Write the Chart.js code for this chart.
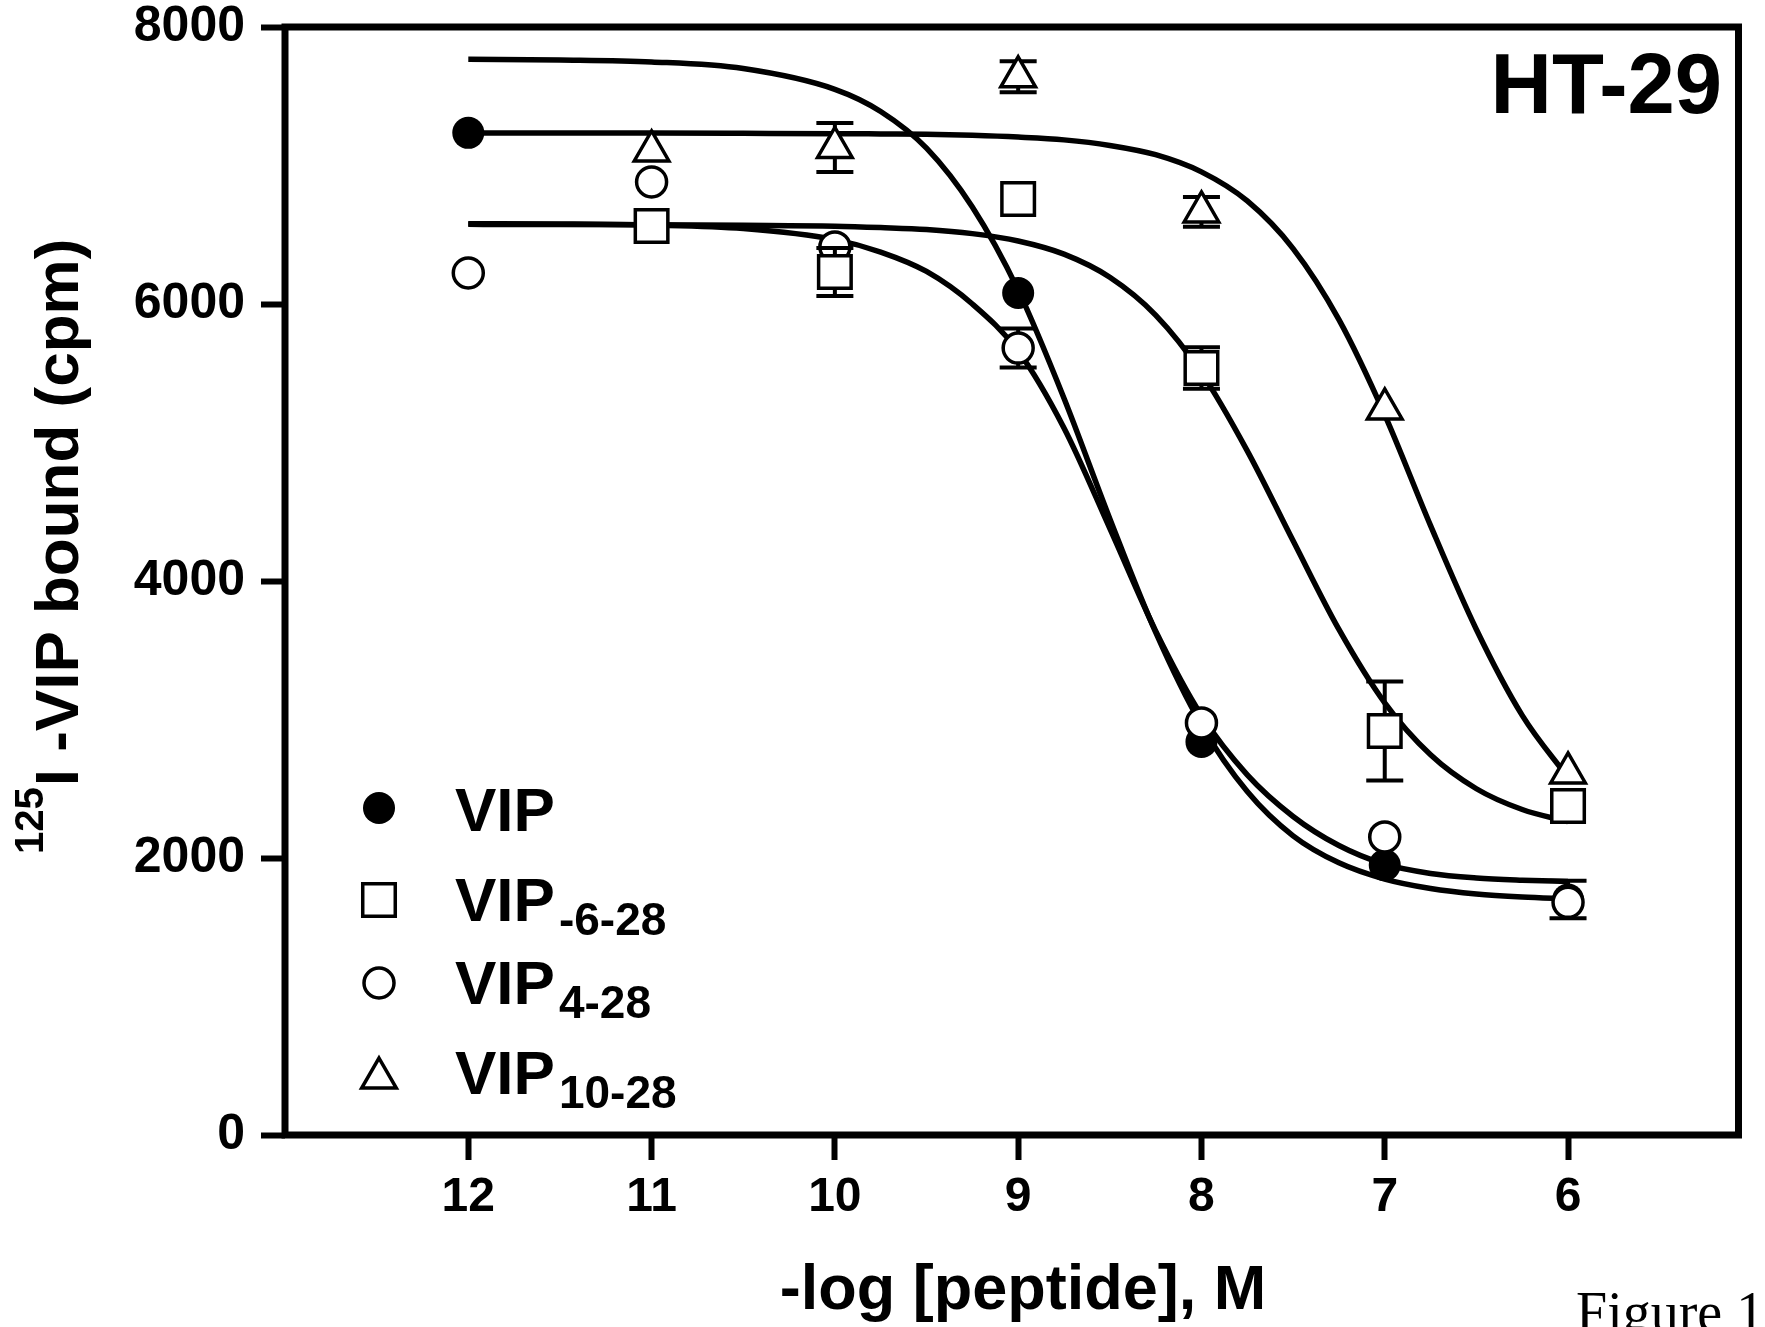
<!DOCTYPE html>
<html>
<head>
<meta charset="utf-8">
<script src="https://cdn.jsdelivr.net/npm/chart.js@4.4.1/dist/chart.umd.min.js"></script>
<style>
  html, body { margin: 0; padding: 0; background: #fff; }
  #wrap { width: 1765px; height: 1327px; position: relative; overflow: hidden; }
</style>
</head>
<body>
<div id="wrap"><canvas id="chart" width="1765" height="1327"></canvas></div>
<script>
// ===== data (x = -log[peptide], M ; y = cpm) =====
const xTicks = [12, 11, 10, 9, 8, 7, 6];
const yTicks = [0, 2000, 4000, 6000, 8000];

// measured points
const vipX = [12, 9, 8, 7, 6];
const vipY = [7236, 6079, 2838, 1949, 1700];
const vipErr = [0, 0, 0, 0, 135];

const vip628X = [11, 10, 9, 8, 7, 6];
const vip628Y = [6563, 6231, 6758, 5538, 2917, 2375];
const vip628Err = [0, 173, 0, 150, 357, 0];

const vip428X = [12, 11, 10, 9, 8, 7, 6];
const vip428Y = [6224, 6881, 6412, 5682, 2975, 2152, 1680];
const vip428Err = [0, 0, 0, 141, 0, 0, 0];

const vip1028X = [11, 10, 9, 8, 7, 6];
const vip1028Y = [7105, 7130, 7640, 6665, 5242, 2614];
const vip1028Err = [0, 177, 112, 108, 0, 0];

// fitted curves, read at these x positions
const curveX = [12, 11.5, 11, 10.5, 10, 9.75, 9.5, 9.25, 9, 8.75, 8.5, 8.25, 8, 7.75, 7.5, 7.25, 7, 6.75, 6.5, 6.25, 6];
const fitVip = [7767, 7762, 7748, 7700, 7550, 7390, 7125, 6700, 6100, 5320, 4450, 3630, 2960, 2480, 2160, 1965, 1848, 1780, 1740, 1718, 1705];
const fitVip628 = [6575, 6574, 6572, 6568, 6562, 6552, 6538, 6508, 6455, 6360, 6193, 5920, 5504, 4940, 4290, 3650, 3120, 2745, 2500, 2350, 2262];
const fitVip428 = [6580, 6578, 6570, 6545, 6465, 6375, 6235, 6000, 5660, 5105, 4380, 3640, 3030, 2600, 2300, 2090, 1955, 1888, 1856, 1840, 1830];
const fitVip1028 = [7235, 7235, 7234, 7232, 7230, 7228, 7226, 7218, 7205, 7185, 7145, 7078, 6954, 6744, 6400, 5887, 5200, 4400, 3650, 3030, 2580];

const FONT = "'Liberation Sans', Arial, Helvetica, sans-serif";

function pts(xs, ys) {
  return xs.map((x, i) => ({ x: x, y: ys[i] }));
}

function curve(ys) {
  return {
    data: pts(curveX, ys),
    showLine: true,
    borderColor: '#000',
    borderWidth: 5.5,
    pointRadius: 0,
    cubicInterpolationMode: 'monotone',
    order: 1,
  };
}

// =================== ERROR BARS ===================
const errorBars = {
  id: 'errorBars',
  beforeDatasetDraw(chart, args) {
    const ds = chart.data.datasets[args.index];
    if (!ds.errors) return;
    const ctx = chart.ctx;
    const x = chart.scales.x, y = chart.scales.y;
    ctx.save();
    ctx.strokeStyle = '#000';
    ctx.lineWidth = 4;
    ds.data.forEach((p, i) => {
      const e = ds.errors[i];
      if (!e) return;
      const px = x.getPixelForValue(p.x);
      const top = y.getPixelForValue(p.y + e);
      const bot = y.getPixelForValue(p.y - e);
      ctx.beginPath();
      ctx.moveTo(px, top); ctx.lineTo(px, bot);
      ctx.moveTo(px - 18.5, top); ctx.lineTo(px + 18.5, top);
      ctx.moveTo(px - 18.5, bot); ctx.lineTo(px + 18.5, bot);
      ctx.stroke();
    });
    ctx.restore();
  }
};

// =================== FRAME, TITLES, LEGEND ===================
const legendRows = [
  { style: 'circle', radius: 16, fill: '#000', border: 0, main: 'VIP', sub: '', cy: 808, base: 831 },
  { style: 'rect', radius: 23, fill: '#fff', border: 3.5, main: 'VIP', sub: '-6-28', cy: 900, base: 921 },
  { style: 'circle', radius: 15, fill: '#fff', border: 3.5, main: 'VIP', sub: '4-28', cy: 983, base: 1004 },
  { style: 'triangle', radius: 20, fill: '#fff', border: 3.5, main: 'VIP', sub: '10-28', cy: 1078, base: 1094 },
];

function marker(ctx, row, x, y) {
  ctx.fillStyle = row.fill;
  ctx.strokeStyle = '#000';
  ctx.lineWidth = row.border;
  Chart.helpers.drawPoint(ctx, {
    pointStyle: row.style, radius: row.radius, rotation: 0, borderWidth: row.border
  }, x, y);
}

const decorations = {
  id: 'decorations',
  afterDraw(chart) {
    const ctx = chart.ctx;
    const a = chart.chartArea;
    ctx.save();

    // box
    ctx.strokeStyle = '#000';
    ctx.lineWidth = 7;
    ctx.lineJoin = 'miter';
    ctx.strokeRect(a.left, a.top, a.right - a.left, a.bottom - a.top);

    ctx.fillStyle = '#000';
    ctx.textBaseline = 'alphabetic';

    // HT-29
    ctx.font = 'bold 85px ' + FONT;
    ctx.textAlign = 'right';
    ctx.fillText('HT-29', 1722, 113);

    // x title
    ctx.font = 'bold 63px ' + FONT;
    ctx.textAlign = 'center';
    ctx.fillText('-log [peptide], M', 1023, 1309);

    // y title, rotated, with superscript 125
    ctx.save();
    ctx.translate(78, 854);
    ctx.rotate(-Math.PI / 2);
    ctx.textAlign = 'left';
    ctx.font = 'bold 40px ' + FONT;
    ctx.fillText('125', 0, -35);
    const w125 = ctx.measureText('125').width;
    ctx.font = 'bold 62px ' + FONT;
    ctx.fillText('I -VIP bound (cpm)', w125 + 1, 0);
    ctx.restore();

    // legend
    ctx.textAlign = 'left';
    legendRows.forEach(row => {
      marker(ctx, row, 379, row.cy);
      ctx.fillStyle = '#000';
      ctx.font = 'bold 62px ' + FONT;
      ctx.fillText(row.main, 455, row.base);
      const w = ctx.measureText(row.main).width;
      if (row.sub) {
        ctx.font = 'bold 46px ' + FONT;
        ctx.fillText(row.sub, 455 + w + 4, row.base + 14);
      }
    });

    // caption fragment at the bottom right
    ctx.font = "56px 'Liberation Serif', 'Times New Roman', serif";
    ctx.fillText('Figure 1', 1576, 1331);

    ctx.restore();
  }
};

// =================== CHART ===================
const ctx = document.getElementById('chart');

new Chart(ctx, {
  type: 'scatter',
  data: {
    datasets: [
      {
        label: 'VIP10-28', data: pts(vip1028X, vip1028Y), errors: vip1028Err,
        pointStyle: 'triangle', pointRadius: 20, pointBackgroundColor: '#fff',
        pointBorderColor: '#000', pointBorderWidth: 3.5, order: 0,
      },
      {
        label: 'VIP-6-28', data: pts(vip628X, vip628Y), errors: vip628Err,
        pointStyle: 'rect', pointRadius: 23, pointBackgroundColor: '#fff',
        pointBorderColor: '#000', pointBorderWidth: 3.5, order: 0,
      },
      {
        label: 'VIP4-28', data: pts(vip428X, vip428Y), errors: vip428Err,
        pointStyle: 'circle', pointRadius: 15, pointBackgroundColor: '#fff',
        pointBorderColor: '#000', pointBorderWidth: 3.5, order: 0,
      },
      {
        label: 'VIP', data: pts(vipX, vipY), errors: vipErr,
        pointStyle: 'circle', pointRadius: 16, pointBackgroundColor: '#000',
        pointBorderColor: '#000', pointBorderWidth: 0, order: 0,
      },
      curve(fitVip),
      curve(fitVip628),
      curve(fitVip428),
      curve(fitVip1028),
    ],
  },
  options: {
    responsive: false,
    animation: false,
    devicePixelRatio: 1,
    layout: { padding: { top: 27, right: 17, left: 0, bottom: 0 } },
    plugins: { legend: { display: false }, tooltip: { enabled: false } },
    scales: {
      x: {
        type: 'linear',
        reverse: true,
        min: 5.07,
        max: 13,
        afterBuildTicks: s => { s.ticks = xTicks.map(v => ({ value: v })); },
        afterFit: s => {
          s.height = 192;
          s.paddingLeft = 0; s.paddingRight = 0;
        },
        border: { display: false },
        grid: { drawOnChartArea: false, drawTicks: true, tickLength: 25, tickWidth: 6, tickColor: '#000' },
        ticks: {
          color: '#000', padding: 9, autoSkip: false, maxRotation: 0,
          font: { family: FONT, size: 48, weight: 'bold' },
          callback: v => String(v),
        },
      },
      y: {
        type: 'linear',
        min: 0,
        max: 8000,
        afterBuildTicks: s => { s.ticks = yTicks.map(v => ({ value: v })); },
        afterFit: s => {
          s.width = 285;
          s.paddingTop = 0; s.paddingBottom = 0;
        },
        border: { display: false },
        grid: { drawOnChartArea: false, drawTicks: true, tickLength: 24, tickWidth: 6, tickColor: '#000' },
        ticks: {
          color: '#000', padding: 16,
          font: { family: FONT, size: 50, weight: 'bold', lineHeight: 1 },
          callback: v => String(v),
        },
      },
    },
  },
  plugins: [errorBars, decorations],
});
</script>
</body>
</html>
